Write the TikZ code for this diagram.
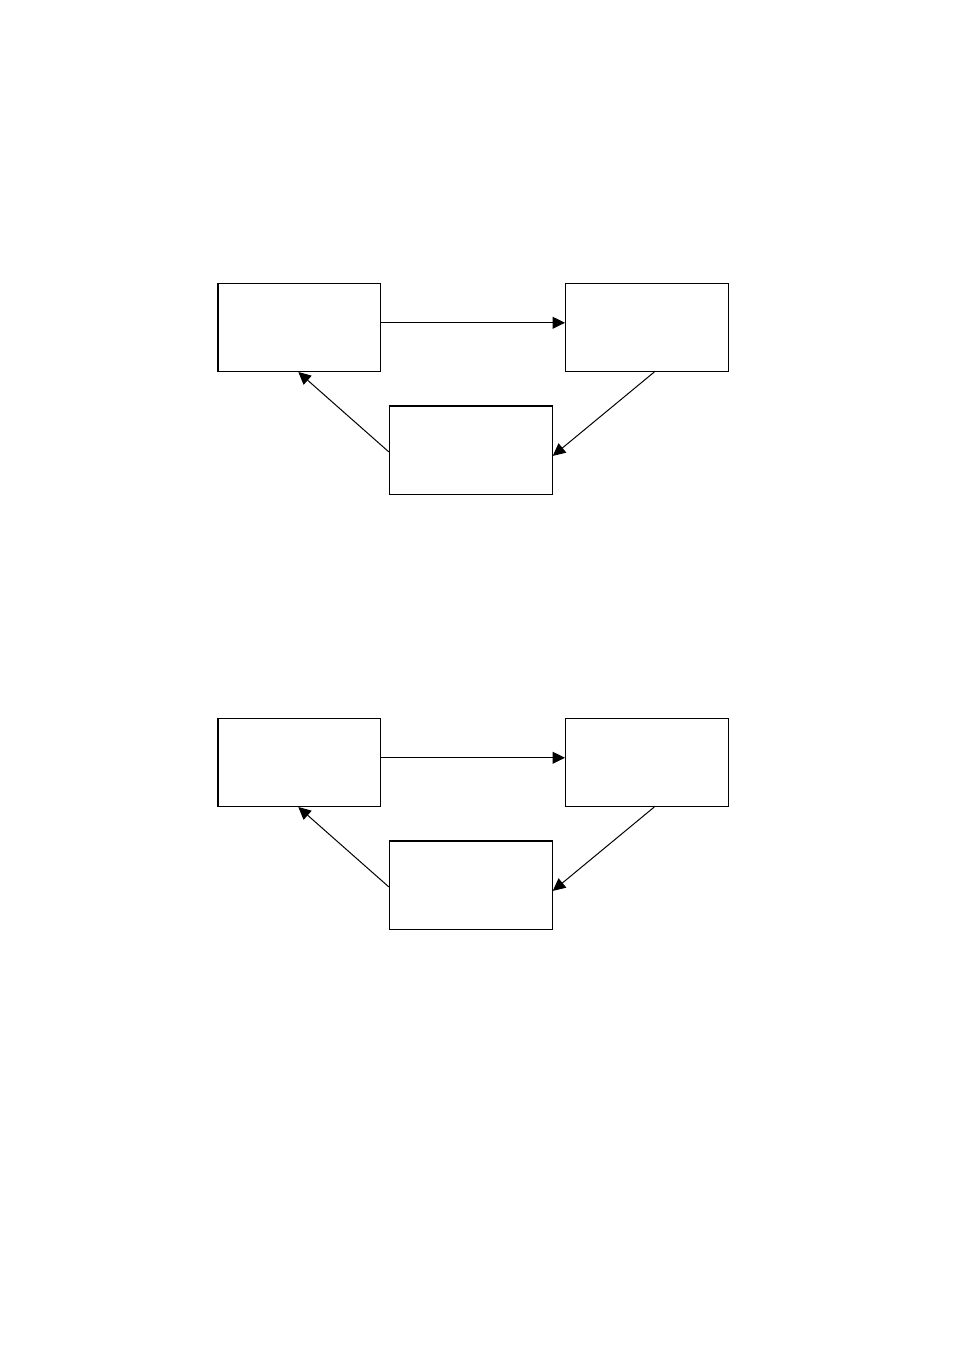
\documentclass[tikz,border=0pt]{standalone}
\usetikzlibrary{arrows.meta}
\begin{document}
\begin{tikzpicture}[x=1pt,y=1pt,
  boxnode/.style={draw=black,line width=1pt,rectangle,minimum width=163pt,minimum height=88pt,inner sep=0pt,fill=white},
  conn/.style={draw=black,line width=1pt,-{Triangle[length=12.5pt,width=12pt]}}]
\useasboundingbox[fill=white] (0,0) rectangle (954,1351);
\foreach \off/\s in {0/A,435/B}{
  \begin{scope}[yshift=-\off pt]
    \node[boxnode] (l\s) at (299,1023.5) {};
    \node[boxnode] (r\s) at (647,1023.5) {};
    \node[boxnode] (b\s) at (470.8,900.5) {};
    \draw[line width=2pt] ([xshift=0.5pt]l\s.south west) -- ([xshift=0.5pt]l\s.north west);
    \draw[line width=2pt] ([yshift=-0.5pt]b\s.north west) -- ([yshift=-0.5pt]b\s.north east);
    \draw[conn] ([yshift=4.7pt]l\s.east) -- ([yshift=4.7pt]r\s.west);
    \draw[conn] ([xshift=7.3pt]r\s.south) -- ([yshift=-5.4pt]b\s.east);
    \draw[conn] ([yshift=-1.4pt]b\s.west) -- ([xshift=-0.7pt]l\s.south);
  \end{scope}
}
\end{tikzpicture}
\end{document}
